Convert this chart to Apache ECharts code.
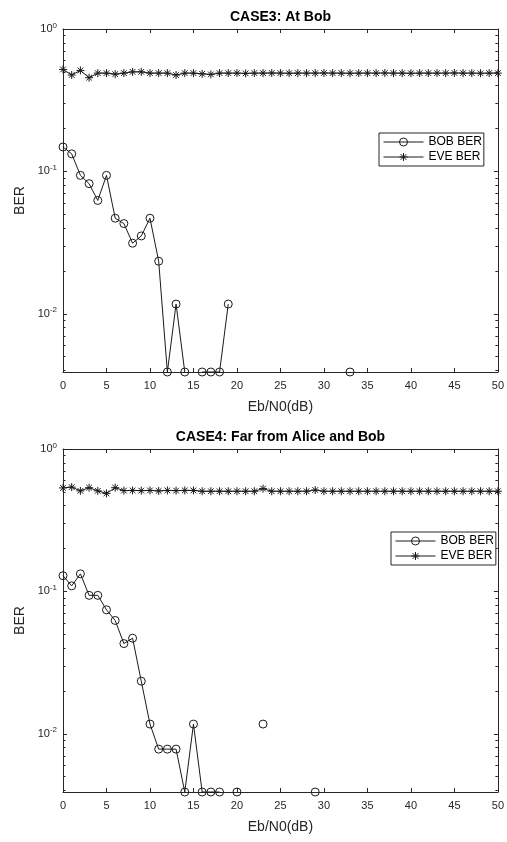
<!DOCTYPE html>
<html><head><meta charset="utf-8">
<script src="https://cdn.jsdelivr.net/npm/echarts@6/dist/echarts.min.js"></script>
<style>html,body{margin:0;padding:0;background:#fff}#c{width:507px;height:842px}</style>
</head><body><div id="c"></div>
<script>
// ---- data ----
const ebn0 = [0,1,2,3,4,5,6,7,8,9,10,11,12,13,14,15,16,17,18,19,20,21,22,23,24,25,26,27,28,29,30,31,32,33,34,35,36,37,38,39,40,41,42,43,44,45,46,47,48,49,50];
const bobCase3 = [0.1484,0.1328,0.0938,0.0820,0.0625,0.0938,0.0469,0.0430,0.0313,0.0352,0.0469,0.0234,0.0039,0.0117,0.0039,null,0.0039,0.0039,0.0039,0.0117,
  null,null,null,null,null,null,null,null,null,null,null,null,null,0.0039,null,null,null,null,null,null,null,null,null,null,null,null,null,null,null,null,null];
const eveCase3 = [0.520,0.475,0.512,0.455,0.490,0.490,0.482,0.490,0.500,0.500,0.490,0.490,0.490,0.475,0.490,0.490,0.484,0.480,0.490,0.490,
  0.490,0.488,0.490,0.490,0.491,0.490,0.489,0.490,0.490,0.490,0.491,0.490,0.490,0.489,0.490,0.490,0.490,0.491,0.490,0.490,0.489,0.490,0.490,0.490,0.490,0.491,0.490,0.490,0.489,0.490,0.490];
const bobCase4 = [0.1289,0.1094,0.1328,0.0938,0.0938,0.0742,0.0625,0.0430,0.0469,0.0234,0.0117,0.0078,0.0078,0.0078,0.0039,0.0117,0.0039,0.0039,0.0039,null,
  0.0039,null,null,0.0117,null,null,null,null,null,0.0039,null,null,null,null,null,null,null,null,null,null,null,null,null,null,null,null,null,null,null,null,null];
const eveCase4 = [0.533,0.540,0.508,0.535,0.508,0.488,0.535,0.510,0.512,0.510,0.512,0.508,0.512,0.510,0.512,0.512,0.505,0.505,0.505,0.505,
  0.505,0.505,0.505,0.527,0.505,0.505,0.505,0.505,0.505,0.515,0.505,0.505,0.505,0.505,0.505,0.505,0.505,0.505,0.505,0.505,0.505,0.505,0.505,0.505,0.505,0.505,0.505,0.505,0.505,0.505,0.505];
const titles = ['CASE3: At Bob', 'CASE4: Far from Alice and Bob'];
const seriesNames = ['BOB BER', 'EVE BER'];
const xTicks = [0,5,10,15,20,25,30,35,40,45,50];
const yMajor = [0.01, 0.1, 1];
const yMinor = [0.004,0.005,0.006,0.007,0.008,0.009,0.02,0.03,0.04,0.05,0.06,0.07,0.08,0.09,0.2,0.3,0.4,0.5,0.6,0.7,0.8,0.9];
const yMin = 0.0039, yMax = 1;
const xLabel = 'Eb/N0(dB)', yLabel = 'BER';

// ---- chart ----
const FONT = "'Liberation Sans', Arial, Helvetica, sans-serif";
const AX = '#262626';
const LINE = '#1a1a1a';
const starPath = 'path://M0,-5L0,5M-5,0L5,0M-3.54,-3.54L3.54,3.54M-3.54,3.54L3.54,-3.54';
const symbols = ['circle', starPath];
const markerStyle = {color: 'rgba(0,0,0,0)', borderColor: LINE, borderWidth: 1};
const gridTops = [29, 449];
const grids = gridTops.map(t => ({left: 63, top: t, width: 435, height: 343, show: false}));
const pairs = (ys) => ebn0.map((x, i) => [x, ys[i]]);

const xAxis = [], yAxis = [], series = [], title = [], legend = [];
const seriesData = [[bobCase3, eveCase3], [bobCase4, eveCase4]];
const legendPos = [{left: 379, top: 133}, {left: 391, top: 532}];

gridTops.forEach((t, g) => {
  const baseX = {type: 'value', gridIndex: g, min: 0, max: 50, interval: 5,
    splitLine: {show: false}, axisLine: {show: true, onZero: false, lineStyle: {color: AX, width: 1}}};
  xAxis.push(Object.assign({}, baseX, {position: 'bottom',
    name: xLabel, nameLocation: 'middle', nameGap: 28,
    nameTextStyle: {fontFamily: FONT, fontSize: 14, color: AX},
    axisTick: {show: true, inside: true, length: 4, lineStyle: {color: AX}},
    axisLabel: {show: true, margin: 8, fontFamily: FONT, fontSize: 11, color: AX, customValues: xTicks}}));
  xAxis.push(Object.assign({}, baseX, {position: 'top',
    axisTick: {show: true, inside: true, length: 4, lineStyle: {color: AX}},
    axisLabel: {show: false}}));
  const baseY = {type: 'log', logBase: 10, gridIndex: g, min: yMin, max: yMax,
    splitLine: {show: false}, minorTick: {show: false}, minorSplitLine: {show: false}};
  yAxis.push(Object.assign({}, baseY, {position: 'left',
    name: yLabel, nameLocation: 'middle', nameGap: 35,
    nameTextStyle: {fontFamily: FONT, fontSize: 14, color: AX},
    axisLine: {show: true, lineStyle: {color: AX, width: 1}},
    axisTick: {show: true, inside: true, length: 4, lineStyle: {color: AX}, customValues: yMajor},
    axisLabel: {show: true, margin: 6, customValues: yMajor,
      formatter: v => '{b|10}{s|' + Math.round(Math.log10(v)) + '}',
      rich: {b: {fontFamily: FONT, fontSize: 11, color: AX},
             s: {fontFamily: FONT, fontSize: 8, color: AX, padding: [0,0,7,0]}}}}));
  yAxis.push(Object.assign({}, baseY, {position: 'left',
    axisLine: {show: false}, axisLabel: {show: false},
    axisTick: {show: true, inside: true, length: 2.5, lineStyle: {color: AX}, customValues: yMinor}}));
  yAxis.push(Object.assign({}, baseY, {position: 'right',
    axisLine: {show: true, lineStyle: {color: AX, width: 1}}, axisLabel: {show: false},
    axisTick: {show: true, inside: true, length: 4, lineStyle: {color: AX}, customValues: yMajor}}));
  yAxis.push(Object.assign({}, baseY, {position: 'right',
    axisLine: {show: false}, axisLabel: {show: false},
    axisTick: {show: true, inside: true, length: 2.5, lineStyle: {color: AX}, customValues: yMinor}}));

  seriesNames.forEach((name, k) => {
    series.push({name, type: 'line', xAxisIndex: g*2, yAxisIndex: g*4,
      data: pairs(seriesData[g][k]), connectNulls: false, symbol: symbols[k], symbolSize: 8,
      lineStyle: {color: LINE, width: 1}, itemStyle: markerStyle,
      emphasis: {disabled: true}, animation: false, clip: false});
  });

  title.push({text: titles[g], left: 280.5, textAlign: 'center', top: t - 19, padding: 0,
    textStyle: {fontFamily: FONT, fontSize: 14, fontWeight: 'bold', color: '#000'}});
  legend.push(Object.assign({
    data: seriesNames.map(name => ({name, itemStyle: markerStyle})),
    orient: 'vertical', itemWidth: 40, itemHeight: 10, itemGap: 3,
    padding: [3, 2, 3, 4], borderColor: AX, borderWidth: 1, backgroundColor: '#fff', selectedMode: false,
    itemStyle: markerStyle, lineStyle: {color: LINE, width: 1},
    textStyle: {fontFamily: FONT, fontSize: 12, color: '#000'}}, legendPos[g]));
});

const chart = echarts.init(document.getElementById('c'), null, {renderer: 'canvas'});
chart.setOption({backgroundColor: '#fff', animation: false, grid: grids, xAxis, yAxis, series, title, legend});
</script>
</body></html>
